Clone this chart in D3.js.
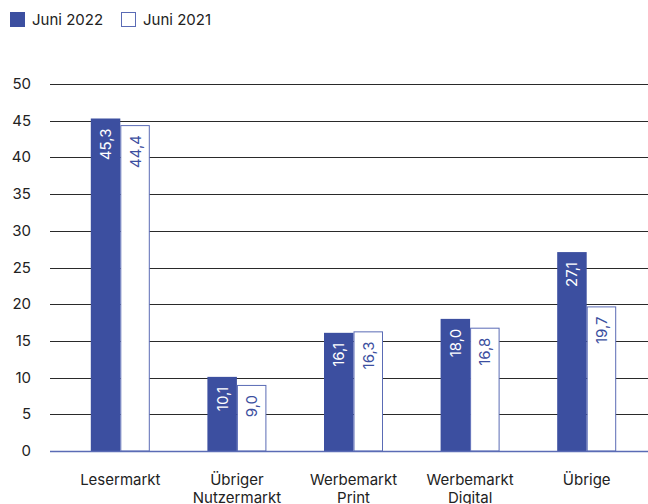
<!DOCTYPE html>
<html>
<head>
<meta charset="utf-8">
<script src="https://cdn.jsdelivr.net/npm/d3@7"></script>
<style>
  body { margin: 0; background: #fff; }
  svg { display: block; font-family: Inter, "Noto Sans", sans-serif; }
</style>
</head>
<body>
<svg id="chart" width="648" height="504"></svg>
<script>
const categories = [["Lesermarkt"], ["Übriger", "Nutzermarkt"], ["Werbemarkt", "Print"], ["Werbemarkt", "Digital"], ["Übrige"]];
const seriesNames = ["Juni 2022", "Juni 2021"];
const values2022 = [45.3, 10.1, 16.1, 18.0, 27.1];
const values2021 = [44.4, 9.0, 16.3, 16.8, 19.7];
const yTicks = [0, 5, 10, 15, 20, 25, 30, 35, 40, 45, 50];

const blue = "#3c4fa0";
const svg = d3.select("#chart");

const x = d3.scaleBand().domain(d3.range(categories.length)).range([62, 645]);
const y = d3.scaleLinear().domain([0, 50]).range([451, 84]);
const barW = 29.5;

// grid
svg.append("g").selectAll("line").data(yTicks.filter(d => d > 0)).join("line")
  .attr("x1", 50).attr("x2", 648)
  .attr("y1", d => Math.round(y(d)) + 0.5).attr("y2", d => Math.round(y(d)) + 0.5)
  .attr("stroke", "#2a2a2a").attr("stroke-width", 1);

// y labels
svg.append("g").selectAll("text").data(yTicks).join("text")
  .attr("x", 31).attr("y", d => y(d) + 5)
  .attr("text-anchor", "end").attr("font-size", 15).attr("fill", "#222")
  .text(d => d);

const rows = categories.map((c, i) => ({ i, a: values2022[i], b: values2021[i] }));
const fmt = v => v.toFixed(1).replace(".", ",");

const g = svg.append("g");
rows.forEach(r => {
  const cx = x(r.i) + x.bandwidth() / 2;
  g.append("rect").attr("x", cx - barW).attr("width", barW)
    .attr("y", y(r.a)).attr("height", y(0) - y(r.a)).attr("fill", blue);
  g.append("rect").attr("x", cx + 0.5).attr("width", barW - 1)
    .attr("y", y(r.b) + 0.5).attr("height", y(0) - y(r.b) - 0.5)
    .attr("fill", "#fff").attr("stroke", "#5a6bb5").attr("stroke-width", 1);
  g.append("text")
    .attr("transform", `translate(${cx - barW / 2 + 5.5},${y(r.a) + 10}) rotate(-90)`)
    .attr("text-anchor", "end").attr("font-size", 15).attr("fill", "#fff")
    .text(fmt(r.a));
  g.append("text")
    .attr("transform", `translate(${cx + barW / 2 + 5.5},${y(r.b) + 10}) rotate(-90)`)
    .attr("text-anchor", "end").attr("font-size", 15).attr("fill", blue)
    .text(fmt(r.b));
});

// baseline
svg.append("line").attr("x1", 50).attr("x2", 648)
  .attr("y1", y(0) + 0.5).attr("y2", y(0) + 0.5)
  .attr("stroke", "#5a6bb5").attr("stroke-width", 1.5);

// x labels
const xl = svg.append("g").selectAll("text").data(categories).join("text")
  .attr("text-anchor", "middle").attr("font-size", 15).attr("fill", "#222")
  .attr("transform", (d, i) => `translate(${x(i) + x.bandwidth() / 2},485)`);
xl.selectAll("tspan").data(d => d).join("tspan")
  .attr("x", 0).attr("dy", (d, j) => j ? 18 : 0).text(d => d);

// legend
const legX = [10, 121];
seriesNames.forEach((n, i) => {
  svg.append("rect").attr("x", legX[i] + 0.5).attr("y", 12.5).attr("width", 14).attr("height", 14)
    .attr("fill", i ? "#fff" : blue).attr("stroke", i ? "#5a6bb5" : blue);
  svg.append("text").attr("x", legX[i] + 22).attr("y", 25)
    .attr("font-size", 15).attr("fill", "#222").text(n);
});
</script>
</body>
</html>
